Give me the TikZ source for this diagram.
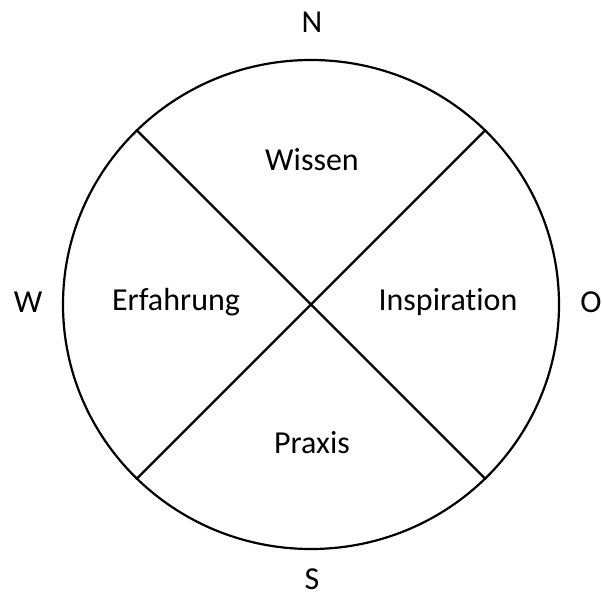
\documentclass[tikz,border=0pt]{standalone}
\usepackage{fontspec}
\setmainfont{Carlito}[Ligatures={NoCommon}]
\usetikzlibrary{shapes.geometric}
\tikzset{
    ring/.style={ellipse, draw=black, line width=2.2pt, inner sep=0pt,
                 minimum width=496pt, minimum height=489pt},
    sector/.style={font=\fontsize{32}{38}\selectfont, inner sep=0pt},
    dir/.style={font=\fontsize{32}{38}\selectfont, inner sep=0pt},
    cut/.style={line width=2.2pt},
}
\begin{document}
\begin{tikzpicture}[x=1pt, y=-1pt]
    \useasboundingbox (0,0) rectangle (603,597);
    \node[ring] (kreis) at (311,304.5) {};

    % quadrant lines
    \draw[cut] (kreis.135) -- (kreis.-45);
    \draw[cut] (kreis.45)  -- (kreis.-135);

    % sectors
    \node[sector] (wissen)  at (312,160) {Wissen};
    \node[sector] (erfahr)  at (176,302) {Erfahrung};
    \node[sector] (inspir)  at (448,302) {Inspiration};
    \node[sector] (praxis)  at (312,443) {Praxis};

    % directions
    \node[dir] (nord) at (312,22)  {N};
    \node[dir, text depth=0pt, anchor=base] (sued) at (312,589) {S};
    \node[dir] (west) at (28,302)  {W};
    \node[dir] (ost)  at (591,302) {O};
\end{tikzpicture}
\end{document}
